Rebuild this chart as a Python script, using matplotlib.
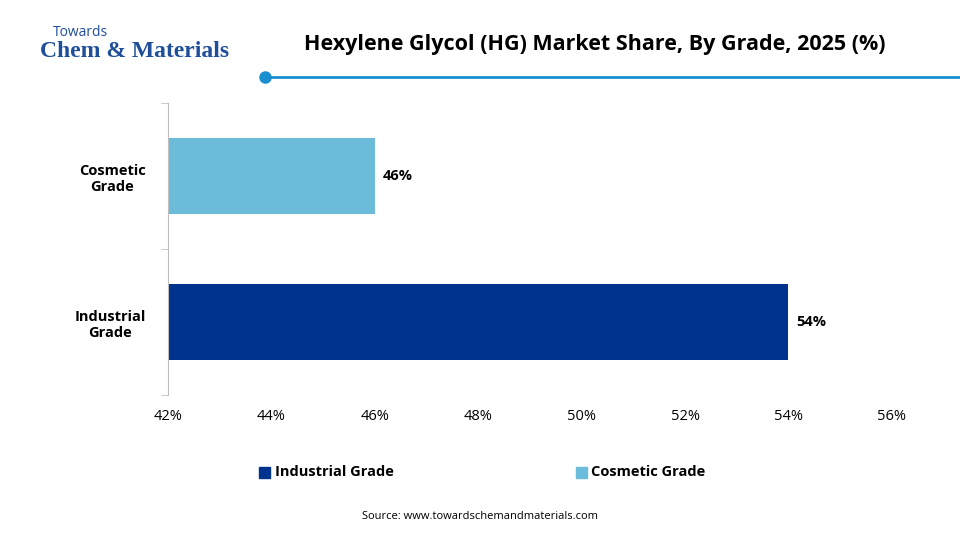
import matplotlib
matplotlib.use("Agg")
import matplotlib.pyplot as plt
from matplotlib.patches import Rectangle

categories = ["Industrial\nGrade", "Cosmetic\nGrade"]
series_names = ["Industrial Grade", "Cosmetic Grade"]
values = [54, 46]
colors = ["#00338D", "#6BBCDB"]
xticks = [42, 44, 46, 48, 50, 52, 54, 56]

plt.rcParams['font.family'] = ['Open Sans', 'DejaVu Sans']
fig = plt.figure(figsize=(9.6, 5.4), dpi=100)
ax = fig.add_axes([0.175, 0.2685, 0.754, 0.5407])
ax.barh([0, 1], [v - 42 for v in values], left=42, height=0.52, color=colors)
for i, v in enumerate(values):
    ax.text(v + 0.15, i, f"{v}%", va="center", ha="left", fontsize=10.5, fontweight="bold")
ax.set_xlim(42, 56)
ax.set_ylim(-0.5, 1.5)
ax.set_xticks(xticks)
ax.set_xticklabels([f"{t}%" for t in xticks], fontsize=10.5)
ax.set_yticks([0, 1])
ax.set_yticklabels(categories, fontsize=10.5, fontweight="bold", multialignment="center")
ax.set_yticks([-0.5, 0.5, 1.5], minor=True)
ax.tick_params(axis="y", which="major", length=0, pad=16)
ax.tick_params(axis="y", which="minor", length=5, color="#BFBFBF")
ax.tick_params(axis="x", length=0, pad=10)
for s in ["top", "right", "bottom"]:
    ax.spines[s].set_visible(False)
ax.spines["left"].set_color("#BFBFBF")

# legend
for x, c, n in [(0.27, colors[0], series_names[0]), (0.60, colors[1], series_names[1])]:
    fig.patches.append(Rectangle((x, 0.115), 0.011, 0.02, color=c, transform=fig.transFigure))
    fig.text(x + 0.016, 0.125, n, fontsize=10.5, fontweight="bold", va="center")

fig.text(0.5, 0.044, "Source: www.towardschemandmaterials.com", ha="center", va="center", fontsize=8)
fig.text(0.62, 0.918, "Hexylene Glycol (HG) Market Share, By Grade, 2025 (%)", ha="center",
         va="center", fontsize=15.5, fontweight="bold")
fig.add_artist(plt.Line2D([0.276, 1.0], [0.857, 0.857], color="#1A8FD0", lw=2, transform=fig.transFigure))
fig.add_artist(plt.Line2D([0.276], [0.857], marker="o", color="#1A8FD0", ms=8, transform=fig.transFigure))
fig.text(0.055, 0.94, "Towards", fontsize=10, color="#1F4E9A", va="center")
fig.text(0.042, 0.905, "Chem & Materials", fontsize=17, color="#1F4E9A", va="center",
         family=["Liberation Serif", "DejaVu Serif"], fontweight="bold")
fig.savefig("out.png", dpi=100)
